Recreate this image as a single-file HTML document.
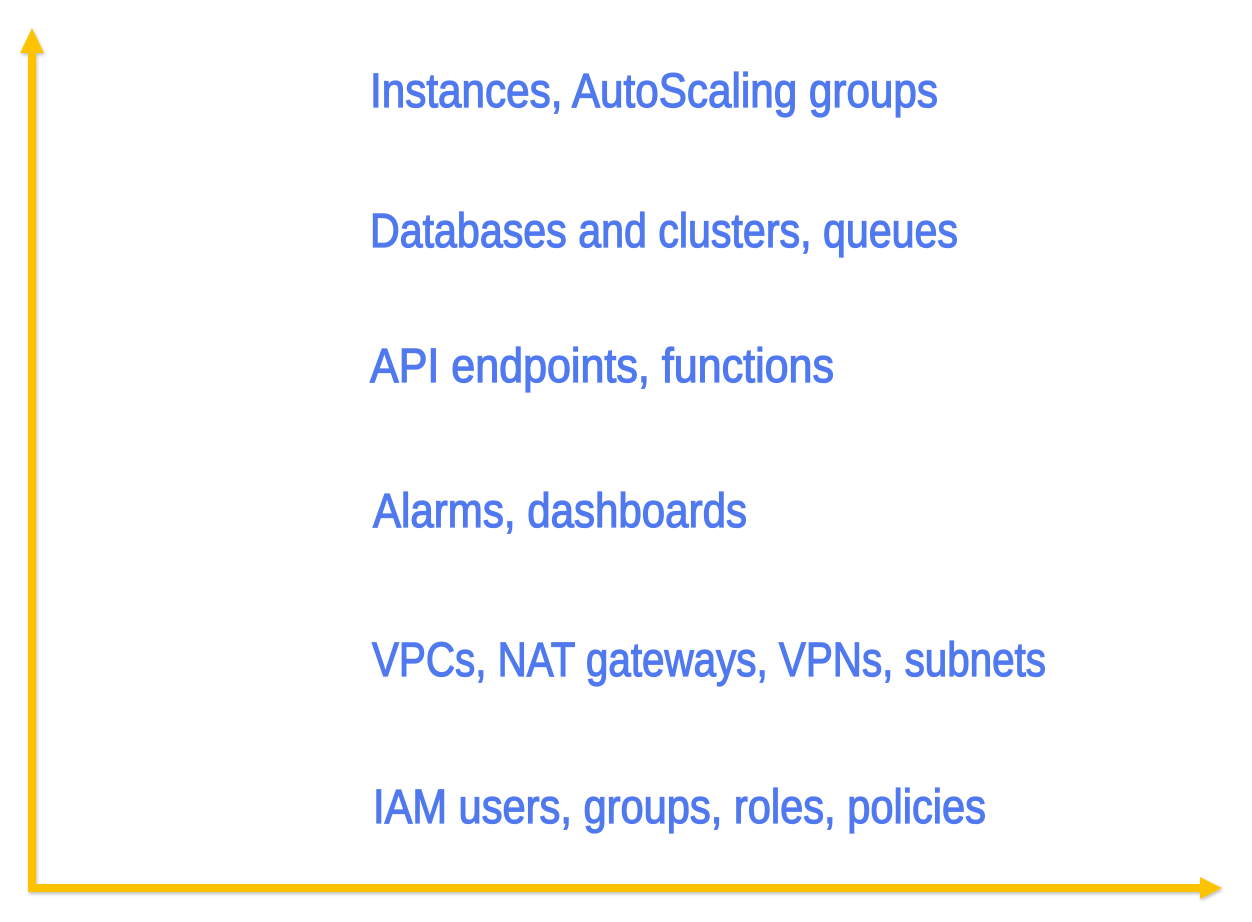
<!DOCTYPE html>
<html><head><meta charset="utf-8"><style>
html,body{margin:0;padding:0;background:#fff;}
svg{display:block;}
text{font-family:"Liberation Sans",sans-serif;font-size:48px;fill:#5079ef;stroke:#5079ef;stroke-width:1.3px;}
</style></head><body>
<svg width="1252" height="922" viewBox="0 0 1252 922">
<defs><filter id="s" x="-5%" y="-5%" width="110%" height="110%"><feDropShadow dx="1" dy="2" stdDeviation="1.5" flood-color="#000" flood-opacity="0.25"/></filter></defs>
<g filter="url(#s)" fill="#fdc300">
<rect x="28" y="50" width="8" height="842"/>
<polygon points="32,28 20,53 44,53"/>
<rect x="28" y="884" width="1176" height="8"/>
<polygon points="1222,888 1200,877 1200,899"/>
</g>
<text x="370" y="107" textLength="568" lengthAdjust="spacingAndGlyphs">Instances, AutoScaling groups</text>
<text x="370" y="247" textLength="588" lengthAdjust="spacingAndGlyphs">Databases and clusters, queues</text>
<text x="370" y="382" textLength="464" lengthAdjust="spacingAndGlyphs">API endpoints, functions</text>
<text x="373" y="527" textLength="374" lengthAdjust="spacingAndGlyphs">Alarms, dashboards</text>
<text x="372" y="676" textLength="674" lengthAdjust="spacingAndGlyphs">VPCs, NAT gateways, VPNs, subnets</text>
<text x="373" y="823" textLength="613" lengthAdjust="spacingAndGlyphs">IAM users, groups, roles, policies</text>
</svg>
</body></html>
